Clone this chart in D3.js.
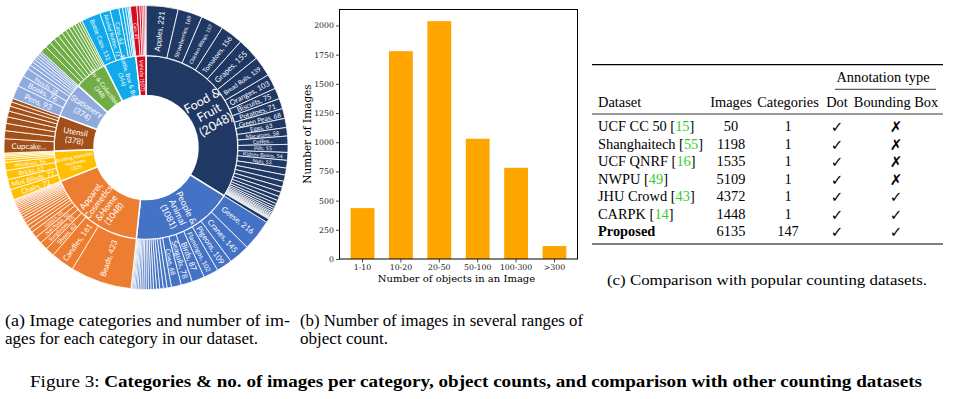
<!DOCTYPE html>
<html>
<head>
<meta charset="utf-8">
<title>Figure 3</title>
<style>
  body { margin: 0; background: #fff; }
</style>
</head>
<body>
<div id="svghere"></div>
<script src="https://d3js.org/d3.v7.min.js"></script>
<script>
// ---------- (a) categories ----------
var categories = ["Food & Fruit", "People & Animal", "Apparel, Cosmetics &Home", "Building Materials Hardware",
                  "Utensil", "Stationery", "Toy & Collectibles", "Bottle, Box & Bag", "Vehicle"];
var categoryLabels = [["Food &", "Fruit", "(2048)"], ["People &", "Animal", "(1081)"],
                      ["Apparel,", "Cosmetics", "&Home", "(1048)"], ["Building Materials", "Hardware", "(325)"],
                      ["Utensil", "(378)"], ["Stationery", "(374)"], ["Toy & Collectibles", "(348)"],
                      ["Bottle, Box & Bag", "(344)"], ["Vehicle (107)"]];

var foodNames = ["Apples", "Strawberries", "Chicken Wings", "Tomatoes", "Grapes", "Bread Rolls", "Oranges", "Biscuits",
                 "Potatoes", "Green Peas", "Eggs", "Macarons", "Coffee...", "Pills", "Kidney Beans", "Nuts"];
var foodValues = [221, 169, 157, 156, 155, 139, 103, 75, 71, 68, 63, 58, 57, 55, 54, 53,
                  48, 44, 40, 36, 32, 28, 24, 20, 16, 14, 12, 10, 9, 8, 7, 6, 5, 5, 4, 26];
var peopleNames = ["Geese", "Cranes", "Pigeons", "Flamingos", "Birds", "Seagulls", "Cows"];
var peopleValues = [216, 145, 109, 102, 87, 78, 68, 30, 26, 24, 22, 20, 18, 17, 16, 15, 14, 13, 12, 11, 10, 9, 8, 6, 5];
var apparelNames = ["Beads", "Candles", "Shoes", "Sunglasses", "Nail Polish", "Lipstick"];
var apparelValues = [423, 161, 62, 55, 50, 45, 28, 26, 24, 22, 20, 18, 16, 15, 14, 13, 12, 11, 10, 9, 8, 6];
var buildingNames = ["Chairs", "Mini Blinds", "Bricks", "Windows"];
var buildingValues = [72, 71, 62, 56, 18, 15, 12, 10, 9];
var utensilNames = ["Cupcake..."];
var utensilValues = [98, 55, 50, 45, 40, 35, 30, 25];
var stationeryNames = ["Pens", "Books", "Pencils"];
var stationeryValues = [93, 76, 58, 30, 26, 22, 20, 18, 16, 15];
var toyNames = [];
var toyValues = [45, 40, 38, 35, 32, 30, 28, 25, 22, 20, 18, 15];
var bottleNames = ["Bottle Caps", "Alcohol Bottles", "Cans"];
var bottleValues = [132, 72, 62, 25, 20, 15, 10, 8];
var vehicleNames = ["Cars"];
var vehicleValues = [45, 20, 15, 12, 10, 5];

// ---------- (b) object counts ----------
var bins = ["1-10", "10-20", "20-50", "50-100", "100-300", ">300"];
var binCounts = [436, 1780, 2037, 1030, 781, 111];
var yTicks = [0, 250, 500, 750, 1000, 1250, 1500, 1750, 2000];

// ---------- (c) comparison table ----------
var datasetNames = ["UCF CC 50", "Shanghaitech", "UCF QNRF", "NWPU", "JHU Crowd", "CARPK", "Proposed"];
var datasetRefs = ["15", "55", "16", "49", "43", "14", ""];
var datasetImages = [50, 1198, 1535, 5109, 4372, 1448, 6135];
var datasetCategories = [1, 1, 1, 1, 1, 1, 147];
var hasDot = [true, true, true, true, true, true, true];
var hasBox = [false, false, false, false, true, true, true];

var catColors = ["#203864", "#4472c4", "#ed7d31", "#ffc000", "#a34f1a", "#8faadc", "#70ad47", "#10a9ea", "#d50b1e"];
var catFont = [12.5, 9, 8.8, 4.8, 8, 8, 6, 6, 5.5];

var svg = d3.select("#svghere")
    .append("svg")
    .attr("width", 956)
    .attr("height", 399);

// ================= sunburst =================
var subNames = [foodNames, peopleNames, apparelNames, buildingNames, utensilNames, stationeryNames, toyNames, bottleNames, vehicleNames];
var subValues = [foodValues, peopleValues, apparelValues, buildingValues, utensilValues, stationeryValues, toyValues, bottleValues, vehicleValues];

var rootData = {
    name: "root",
    children: categories.map(function(c, i) {
        return {
            name: c, idx: i,
            children: subValues[i].map(function(v, j) {
                return { name: subNames[i][j] || "", value: v, idx: i };
            })
        };
    })
};

var root = d3.hierarchy(rootData).sum(function(d) { return d.children ? 0 : d.value; });
d3.partition().size([2 * Math.PI, 1])(root);

var rings = { 1: [52, 92], 2: [92, 142] };
var arc = d3.arc()
    .startAngle(function(d) { return d.x0; })
    .endAngle(function(d) { return d.x1; })
    .innerRadius(function(d) { return rings[d.depth][0]; })
    .outerRadius(function(d) { return rings[d.depth][1]; });

var sun = svg.append("g").attr("transform", "translate(146,147.5)");

var nodes = root.descendants().filter(function(d) { return d.depth > 0; });

sun.selectAll("path")
    .data(nodes)
    .enter()
    .append("path")
    .attr("d", arc)
    .attr("fill", function(d) { return catColors[d.data.idx]; })
    .attr("stroke", "#fff")
    .attr("stroke-width", function(d) { return d.depth === 1 ? 1.5 : 0.8; });

function labelTransform(d, r) {
    var a = (d.x0 + d.x1) / 2;
    var deg = a * 180 / Math.PI;
    var rot = deg < 180 ? deg - 90 : deg + 90;
    return "translate(" + (Math.sin(a) * r) + "," + (-Math.cos(a) * r) + ") rotate(" + rot + ")";
}

// outer labels
var leaves = root.leaves().filter(function(d) { return d.data.name !== ""; });
sun.selectAll("text.leaf")
    .data(leaves)
    .enter()
    .append("text")
    .attr("class", "leaf")
    .attr("transform", function(d) { return labelTransform(d, 117); })
    .attr("text-anchor", "middle")
    .attr("dominant-baseline", "central")
    .attr("fill", "#fff")
    .style("font-family", "Lato, 'Open Sans', sans-serif")
    .style("font-size", function(d) {
        var w = (d.x1 - d.x0) * 117;
        return Math.min(7.8, Math.max(4.5, w * 0.8)) + "px";
    })
    .text(function(d) {
        var n = d.data.name;
        if (n.slice(-3) === "...") return n;
        return n + ", " + d.value;
    })
    .each(function() {
        // keep the label inside the ring
        var len = this.getComputedTextLength();
        if (len > 44) {
            var fs = parseFloat(this.style.fontSize);
            d3.select(this).style("font-size", (fs * 44 / len) + "px");
        }
    });

// inner labels
var cats = root.children;
var catText = sun.selectAll("text.cat")
    .data(cats)
    .enter()
    .append("text")
    .attr("class", "cat")
    .attr("transform", function(d) { return labelTransform(d, 72); })
    .attr("text-anchor", "middle")
    .attr("fill", "#fff")
    .style("font-family", "Lato, 'Open Sans', sans-serif")
    .style("font-size", function(d) { return catFont[d.data.idx] + "px"; });

catText.each(function(d) {
    var lines = categoryLabels[d.data.idx];
    var el = d3.select(this);
    lines.forEach(function(line, k) {
        el.append("tspan")
            .attr("x", 0)
            .attr("dy", k === 0 ? (-(lines.length - 1) / 2 * 1.1 + 0.35) + "em" : "1.1em")
            .text(line);
    });
});

// ================= bar chart =================
var bx0 = 339.5, bx1 = 577.5, by0 = 259, by1 = 9.5;
var x = d3.scaleBand().domain(bins).range([bx0, bx1]).paddingInner(0.38).paddingOuter(0.29);
var y = d3.scaleLinear().domain([0, 2137]).range([by0, by1]);

var bars = svg.append("g");
bars.selectAll("rect")
    .data(binCounts)
    .enter()
    .append("rect")
    .attr("x", function(d, i) { return x(bins[i]); })
    .attr("y", function(d) { return y(d); })
    .attr("width", x.bandwidth())
    .attr("height", function(d) { return by0 - y(d); })
    .attr("fill", "#ffa500");

var yAxis = bars.append("g")
    .attr("transform", "translate(" + bx0 + ",0)")
    .call(d3.axisLeft(y).tickValues(yTicks).tickFormat(d3.format("d")).tickSize(3.5).tickPadding(2));
var xAxis = bars.append("g")
    .attr("transform", "translate(0," + by0 + ")")
    .call(d3.axisBottom(x).tickSize(3.5).tickPadding(2));
[yAxis, xAxis].forEach(function(g) {
    g.select(".domain").remove();
    g.selectAll("text").style("font-family", "'DejaVu Serif', serif").style("font-size", "7.8px").attr("fill", "#222");
    g.selectAll("line").attr("stroke", "#222").attr("stroke-width", 0.8);
});

bars.append("rect")
    .attr("x", bx0).attr("y", by1)
    .attr("width", bx1 - bx0).attr("height", by0 - by1)
    .attr("fill", "none").attr("stroke", "#000").attr("stroke-width", 1);

bars.append("text")
    .attr("x", (bx0 + bx1) / 2 - 2).attr("y", 278)
    .attr("text-anchor", "middle").attr("dominant-baseline", "central")
    .style("font-family", "'DejaVu Serif', serif").style("font-size", "10px")
    .text("Number of objects in an Image");

bars.append("text")
    .attr("transform", "translate(306.5,134) rotate(-90)")
    .attr("text-anchor", "middle").attr("dominant-baseline", "central")
    .style("font-family", "'DejaVu Serif', serif").style("font-size", "10.5px")
    .text("Number of Images");

// ================= table =================
var tab = svg.append("g")
    .style("font-family", "'Liberation Serif', 'Times New Roman', serif")
    .style("font-size", "14.4px");

var colX = { name: 598, images: 731, cats: 788, dot: 837, box: 896 };
var rowY = d3.scalePoint().domain(datasetNames).range([126, 231]);

tab.append("line").attr("x1", 592).attr("x2", 943).attr("y1", 64.7).attr("y2", 64.7).attr("stroke", "#000").attr("stroke-width", 1.2);
tab.append("line").attr("x1", 835).attr("x2", 936).attr("y1", 89.3).attr("y2", 89.3).attr("stroke", "#000").attr("stroke-width", 0.8);
tab.append("line").attr("x1", 592).attr("x2", 943).attr("y1", 114).attr("y2", 114).attr("stroke", "#000").attr("stroke-width", 0.8);
tab.append("line").attr("x1", 592).attr("x2", 943).attr("y1", 244).attr("y2", 244).attr("stroke", "#000").attr("stroke-width", 1.2);

tab.append("text").attr("x", 883).attr("y", 77).attr("text-anchor", "middle").attr("dominant-baseline", "central").text("Annotation type");
var headers = [["Dataset", colX.name, "start"], ["Images", colX.images, "middle"], ["Categories", colX.cats, "middle"],
               ["Dot", colX.dot, "middle"], ["Bounding Box", colX.box, "middle"]];
headers.forEach(function(h) {
    tab.append("text").attr("x", h[1]).attr("y", 102).attr("text-anchor", h[2]).attr("dominant-baseline", "central").text(h[0]);
});

datasetNames.forEach(function(n, i) {
    var yy = rowY(n);
    var t = tab.append("text").attr("x", colX.name).attr("y", yy).attr("dominant-baseline", "central");
    if (datasetRefs[i] === "") {
        t.style("font-weight", "bold").text(n);
    } else {
        t.append("tspan").text(n + " [");
        t.append("tspan").attr("fill", "#33cc33").text(datasetRefs[i]);
        t.append("tspan").text("]");
    }
    tab.append("text").attr("x", colX.images).attr("y", yy).attr("text-anchor", "middle").attr("dominant-baseline", "central").text(datasetImages[i]);
    tab.append("text").attr("x", colX.cats).attr("y", yy).attr("text-anchor", "middle").attr("dominant-baseline", "central").text(datasetCategories[i]);
    [[hasDot[i], colX.dot], [hasBox[i], colX.box]].forEach(function(m) {
        tab.append("text").attr("x", m[1]).attr("y", yy + 1).attr("text-anchor", "middle").attr("dominant-baseline", "central")
            .style("font-family", "'DejaVu Sans', sans-serif").style("font-size", "15px").style("font-weight", "bold")
            .text(m[0] ? "\u2713" : "\u2717");
    });
});

// ================= captions =================
var cap = svg.append("g")
    .style("font-family", "'Liberation Serif', 'Times New Roman', serif")
    .style("font-size", "16.5px");

function capLine(txt, xx, yy, len) {
    cap.append("text").attr("x", xx).attr("y", yy).attr("dominant-baseline", "central")
        .attr("textLength", len).attr("lengthAdjust", "spacingAndGlyphs").text(txt);
}
capLine("(a) Image categories and number of im-", 5, 320, 285);
capLine("ages for each category in our dataset.", 5, 338, 253);
capLine("(b) Number of images in several ranges of", 300, 320, 283);
capLine("object count.", 300, 338, 88);

cap.append("text").attr("x", 607).attr("y", 280).attr("dominant-baseline", "central")
    .style("font-size", "15px").attr("textLength", 320).attr("lengthAdjust", "spacingAndGlyphs")
    .text("(c) Comparison with popular counting datasets.");

var fig = cap.append("text").attr("x", 30).attr("y", 381).attr("dominant-baseline", "central")
    .style("font-size", "17px")
    .attr("textLength", 892).attr("lengthAdjust", "spacingAndGlyphs");
fig.append("tspan").text("Figure 3:  ");
fig.append("tspan").style("font-weight", "bold").text("Categories & no. of images per category, object counts, and comparison with other counting datasets");
</script>
</body>
</html>
